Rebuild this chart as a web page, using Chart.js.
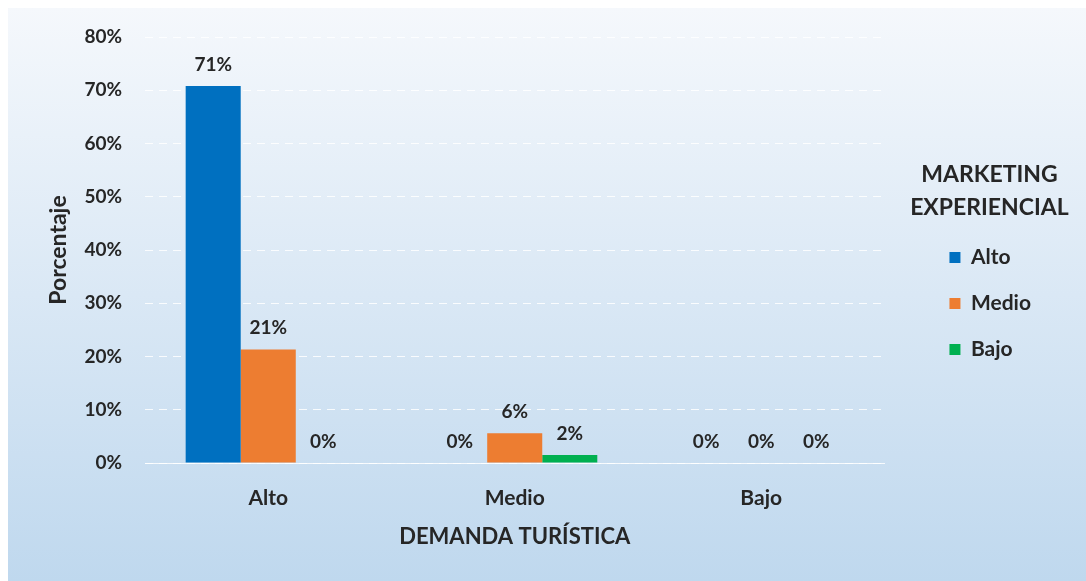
<!DOCTYPE html>
<html>
<head>
<meta charset="utf-8">
<script src="https://cdn.jsdelivr.net/npm/chart.js@4"></script>
<style>
  html, body { margin: 0; padding: 0; background: #fff; }
  #wrap { width: 1086px; height: 581px; }
</style>
</head>
<body>
<div id="wrap"><canvas id="chart" width="1086" height="581"></canvas></div>
<script>
// DEMANDA TURÍSTICA levels (x axis)
const categories = ['Alto', 'Medio', 'Bajo'];
// MARKETING EXPERIENCIAL levels (series), values in %
const seriesNames = ['Alto', 'Medio', 'Bajo'];
const altoValues = [70.8, 0, 0];
const medioValues = [21.3, 5.6, 0];
const bajoValues = [0, 1.5, 0];
const yTicks = [0, 10, 20, 30, 40, 50, 60, 70, 80];
const legendTitle = ['MARKETING', 'EXPERIENCIAL'];

const colors = ['#0070c0', '#ed7d31', '#00b050'];
const textColor = '#262626';
const fontFamily = 'Lato, "Open Sans", sans-serif';

const background = {
  id: 'background',
  beforeDraw(chart) {
    const ctx = chart.ctx;
    ctx.save();
    ctx.fillStyle = '#ffffff';
    ctx.fillRect(0, 0, chart.width, chart.height);
    const g = ctx.createLinearGradient(0, 8, 0, chart.height);
    g.addColorStop(0, '#f5f8fc');
    g.addColorStop(1, '#bfd8ee');
    ctx.fillStyle = g;
    ctx.fillRect(8, 8, chart.width - 8, chart.height - 8);
    ctx.restore();
  }
};

const barLabels = {
  id: 'barLabels',
  afterDatasetsDraw(chart) {
    const ctx = chart.ctx;
    ctx.save();
    ctx.font = 'bold 19px ' + fontFamily;
    ctx.fillStyle = textColor;
    ctx.textAlign = 'center';
    ctx.textBaseline = 'bottom';
    chart.data.datasets.forEach((ds, i) => {
      chart.getDatasetMeta(i).data.forEach((bar, j) => {
        ctx.fillText(Math.round(ds.data[j]) + '%', bar.x, bar.y - 12);
      });
    });
    ctx.restore();
  }
};

// legend title is wider than the legend box, so it is drawn here unclipped
const legendHeading = {
  id: 'legendHeading',
  afterDraw(chart) {
    const boxes = chart.legend.legendHitBoxes;
    if (!boxes || !boxes.length) return;
    const ctx = chart.ctx;
    ctx.save();
    ctx.font = 'bold 23px ' + fontFamily;
    ctx.fillStyle = textColor;
    ctx.textAlign = 'center';
    ctx.textBaseline = 'middle';
    const cx = boxes[0].left + 40;
    legendTitle.forEach((line, i) => ctx.fillText(line, cx, 175 + i * 33));
    ctx.restore();
  }
};

const data = {
  labels: categories,
  datasets: [
    { label: seriesNames[0], data: altoValues, backgroundColor: colors[0] },
    { label: seriesNames[1], data: medioValues, backgroundColor: colors[1] },
    { label: seriesNames[2], data: bajoValues, backgroundColor: colors[2] }
  ]
};

const config = {
  type: 'bar',
  data: data,
  options: {
    responsive: false,
    animation: false,
    events: [],
    categoryPercentage: 0.67,
    barPercentage: 1,
    layout: { padding: { top: 37, right: 45, bottom: 0, left: 0 } },
    scales: {
      x: {
        grid: { display: false },
        border: { display: true, color: 'rgba(255,255,255,0.85)', width: 1 },
        ticks: { color: textColor, font: { family: fontFamily, size: 21, weight: 'bold' }, padding: 15 },
        title: {
          display: true,
          text: 'DEMANDA TURÍSTICA',
          color: textColor,
          font: { family: fontFamily, size: 22, weight: 'bold' },
          padding: { top: 0, bottom: 31 }
        },
        afterFit(scale) { scale.height = 118; }
      },
      y: {
        min: 0,
        max: 80,
        afterBuildTicks(scale) { scale.ticks = yTicks.map(v => ({ value: v })); },
        grid: {
          color: 'rgba(255,255,255,0.85)',
          drawTicks: false,
          lineWidth: 1
        },
        border: { display: false, dash: [8, 6] },
        ticks: {
          color: textColor,
          font: { family: fontFamily, size: 19, weight: 'bold' },
          padding: 23,
          callback: v => v + '%'
        },
        title: {
          display: true,
          text: 'Porcentaje',
          color: textColor,
          font: { family: fontFamily, size: 23, weight: 'bold' },
          padding: { top: 45, bottom: 0 }
        },
        afterFit(scale) { scale.width = 145; }
      },
      gap: {
        position: 'right',
        display: true,
        grid: { display: false },
        border: { display: false },
        ticks: { display: false },
        afterFit(scale) { scale.width = 40; }
      }
    },
    plugins: {
      tooltip: { enabled: false },
      legend: {
        position: 'right',
        align: 'start',
        labels: {
          color: textColor,
          font: { family: fontFamily, size: 21, weight: 'bold' },
          boxWidth: 11,
          boxHeight: 11,
          padding: 25
        },
        title: {
          // space holder; the visible heading is drawn by legendHeading
          display: true,
          text: ' ',
          color: 'rgba(0,0,0,0)',
          font: { family: fontFamily, size: 22, weight: 'bold', lineHeight: 1.5 },
          padding: { top: 122, bottom: 30 }
        }
      }
    }
  },
  plugins: [background, barLabels, legendHeading]
};

new Chart(document.getElementById('chart'), config);
</script>
</body>
</html>
